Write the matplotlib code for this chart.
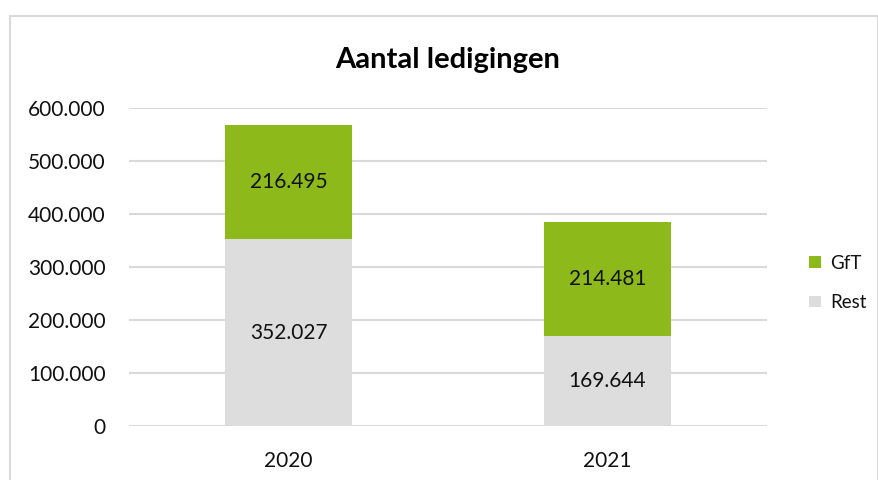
import matplotlib
import matplotlib.pyplot as plt
from matplotlib.patches import Rectangle
matplotlib.use('Agg')

years = ["2020", "2021"]
rest = [352027, 169644]
gft = [216495, 214481]
yticks = [0, 100000, 200000, 300000, 400000, 500000, 600000]


def fmt(v):
    return f"{v:,}".replace(",", ".")


plt.rcParams['font.family'] = ['Lato', 'DejaVu Sans']

fig = plt.figure(figsize=(8.79, 4.8), dpi=100)
ax = fig.add_axes([0.1468, 0.1125, 0.7258, 0.6625])

x = range(len(years))
b_rest = ax.bar(x, rest, width=0.4, color="#DDDDDD", label="Rest", zorder=2)
b_gft = ax.bar(x, gft, width=0.4, bottom=rest, color="#8DB91A", label="GfT", zorder=2)

for i in x:
    ax.text(i, rest[i] / 2, fmt(rest[i]), ha="center", va="center", fontsize=15, color="#111111")
    ax.text(i, rest[i] + gft[i] / 2, fmt(gft[i]), ha="center", va="center", fontsize=15, color="#111111")

ax.set_xlim(-0.5, 1.5)
ax.set_ylim(0, 600000)
ax.set_xticks(list(x))
ax.set_xticklabels(years, fontsize=15, color="#111111")
ax.set_yticks(yticks)
ax.set_yticklabels([fmt(v) for v in yticks], fontsize=15, color="#111111")
ax.tick_params(axis='y', length=0, pad=17)
ax.tick_params(axis='x', length=0, pad=18)
ax.yaxis.grid(True, color="#D9D9D9", linewidth=1.5, zorder=0)
for s in ax.spines.values():
    s.set_visible(False)

ax.set_title("Aantal ledigingen", fontsize=21, fontweight="bold", pad=29)

leg = ax.legend(handles=[b_gft, b_rest], loc="center left", bbox_to_anchor=(1.04, 0.45),
                frameon=False, fontsize=13.5, handlelength=0.6, handleheight=0.6,
                handletextpad=0.5, labelspacing=1.2)
for t in leg.get_texts():
    t.set_color("#111111")

fig.patches.append(Rectangle((10 / 879, -0.01), 868 / 879, 1 - 16 / 480 + 0.01,
                             transform=fig.transFigure, fill=False,
                             edgecolor="#D9D9D9", linewidth=1.5))

plt.savefig("out.png")
